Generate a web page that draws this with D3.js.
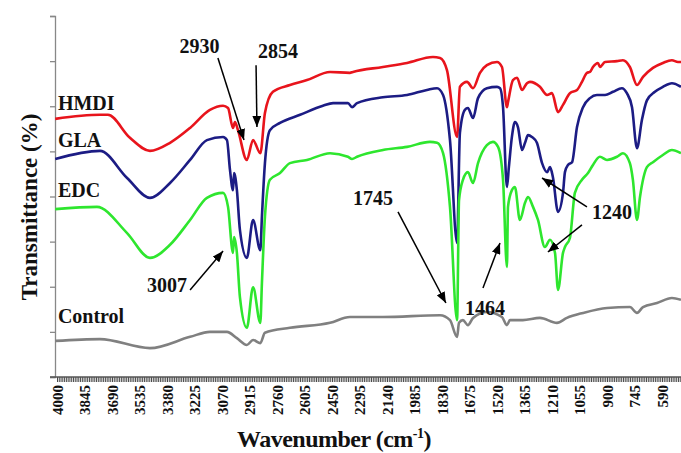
<!DOCTYPE html>
<html>
<head>
<meta charset="utf-8">
<script src="https://cdn.jsdelivr.net/npm/d3@7"></script>
<style>
  html, body { margin: 0; padding: 0; background: #fff; }
  svg { display: block; }
  text { font-family: "Liberation Serif", "Times New Roman", serif; font-weight: bold; fill: #111; }
</style>
</head>
<body>
<svg id="chart" width="681" height="453"></svg>
<script>
// ---- data: [wavenumber (cm-1), transmittance (%)] ----
const hmdi = [[4010,57.2],[3758,58.1],[3713,58.1],[3589,53.0],[3476,50.1],[3363,51.9],[3250,55.2],[3138,59.2],[3064,60.1],[3036,59.6],[3008,55.2],[2997,56.5],[2980,54.7],[2930,48.1],[2895,52.5],[2854,49.6],[2828,58.5],[2783,63.2],[2687,64.7],[2591,65.8],[2461,67.6],[2349,67.4],[2332,67.6],[2163,68.7],[2027,69.6],[1881,70.9],[1841,70.7],[1802,68.0],[1745,53.2],[1729,64.3],[1689,65.4],[1655,64.0],[1616,67.4],[1577,69.1],[1520,69.8],[1492,68.7],[1464,59.8],[1458,60.9],[1430,65.8],[1407,66.3],[1379,63.6],[1351,65.1],[1334,65.4],[1278,64.3],[1238,62.5],[1210,62.9],[1176,58.7],[1148,60.3],[1109,62.9],[1069,63.6],[1041,65.4],[1013,67.4],[996,67.6],[979,68.7],[951,69.6],[940,68.7],[911,69.8],[844,70.0],[810,70.2],[771,68.7],[731,64.7],[697,66.5],[641,68.5],[585,69.6],[534,70.2],[500,69.8],[483,69.8]];

const gla = [[4010,48.3],[3758,50.1],[3605,44.1],[3476,39.7],[3363,43.0],[3250,48.1],[3155,52.5],[3064,53.2],[3042,52.5],[3025,45.9],[3008,41.4],[3002,45.2],[2986,41.4],[2969,32.6],[2930,26.4],[2895,34.8],[2854,28.1],[2845,35.5],[2828,47.4],[2800,54.7],[2743,56.3],[2630,58.1],[2501,60.1],[2444,60.7],[2360,60.7],[2337,59.8],[2309,60.7],[2163,62.0],[2027,62.5],[1915,63.6],[1858,64.0],[1824,62.5],[1785,52.5],[1745,29.7],[1729,54.1],[1701,59.2],[1684,59.6],[1655,57.4],[1627,61.8],[1577,64.0],[1520,64.3],[1503,64.0],[1486,59.8],[1464,42.1],[1453,46.5],[1436,53.2],[1419,56.5],[1402,55.4],[1379,50.3],[1362,51.9],[1345,53.6],[1323,53.2],[1295,51.9],[1266,47.4],[1238,45.4],[1221,46.5],[1205,44.3],[1176,36.6],[1148,40.8],[1137,45.4],[1120,47.0],[1097,47.6],[1069,55.4],[1035,59.8],[996,61.8],[957,62.5],[911,62.5],[866,63.2],[816,64.0],[788,62.9],[759,59.8],[731,50.7],[703,57.0],[675,61.3],[630,63.2],[585,64.3],[534,65.1],[483,64.3]];

const edc = [[4010,37.2],[3775,37.7],[3605,31.9],[3476,26.4],[3363,29.3],[3250,34.8],[3155,39.7],[3064,40.8],[3036,37.7],[3008,27.5],[3002,31.0],[2986,27.5],[2969,17.7],[2930,10.9],[2895,19.9],[2854,12.0],[2845,20.8],[2828,35.5],[2800,43.7],[2743,45.2],[2687,47.4],[2591,48.1],[2461,49.6],[2360,48.8],[2337,48.3],[2309,48.8],[2163,50.3],[2027,51.0],[1898,52.1],[1858,51.9],[1824,49.6],[1785,37.7],[1745,12.6],[1734,39.2],[1712,43.7],[1684,45.4],[1655,43.0],[1627,47.4],[1577,51.4],[1543,52.1],[1514,51.0],[1486,43.7],[1464,24.4],[1458,37.7],[1436,41.4],[1419,42.1],[1391,34.8],[1362,38.6],[1345,39.9],[1317,37.7],[1289,34.8],[1250,28.8],[1221,30.4],[1193,27.5],[1176,19.3],[1148,27.5],[1137,28.8],[1109,30.8],[1081,40.8],[1041,43.7],[1007,45.2],[979,47.0],[940,48.8],[900,48.1],[844,48.8],[810,49.6],[771,47.4],[754,43.7],[731,34.8],[714,39.9],[675,46.5],[641,47.6],[585,49.2],[534,50.3],[483,49.6]];

const control = [[4010,8.0],[3758,8.4],[3476,6.4],[3250,8.9],[3138,10.0],[3042,10.0],[2986,8.6],[2930,7.1],[2895,8.2],[2854,7.5],[2828,9.8],[2687,10.9],[2461,12.0],[2349,13.3],[2163,13.3],[1841,13.7],[1785,12.6],[1745,8.9],[1734,12.0],[1712,12.6],[1684,11.5],[1655,13.1],[1577,14.4],[1492,13.3],[1464,11.5],[1447,12.6],[1374,12.6],[1278,13.1],[1182,12.0],[1126,13.1],[1035,14.2],[900,15.3],[771,15.5],[731,14.2],[697,15.5],[618,16.4],[534,17.5],[483,17.1]];

const seriesNames = ["HMDI", "GLA", "EDC", "Control"];
const seriesColors = ["#e8141c", "#1c1c84", "#2ee62e", "#808080"];
// label anchor positions (wavenumber, transmittance)
const seriesLabelPos = [[3995,59.2],[3995,51.0],[3995,39.9],[3995,12.0]];

const xTickValues = [4000,3845,3690,3535,3380,3225,3070,2915,2760,2605,2450,2295,2140,1985,1830,1675,1520,1365,1210,1055,900,745,590];
const yTickValues = [0,10,20,30,40,50,60,70,80];

// annotations: label, text position, arrows [[from],[to]]
const annLabels = ["2930","2854","3007","1745","1464","1240"];
const annText = [[3197,71.8],[2754,70.7],[3380,18.8],[2219,38.1],[1588,13.7],[872,35.0]];
const annArrows = [
  [[[3093,70.7],[2946,52.5]]],
  [[[2878,69.1],[2873,55.4]]],
  [[[3250,19.3],[3064,27.9]]],
  [[[2078,36.6],[1808,16.4]]],
  [[[1599,19.7],[1503,29.7]]],
  [[[1013,37.7],[1266,44.1]],[[1041,33.7],[1233,27.7]]]
];

// ---- drawing ----
const svg = d3.select("#chart");
const x = d3.scaleLinear().domain([4000, 400]).range([57, 695.7]);
const y = d3.scaleLinear().domain([0, 80]).range([377, 16]);

// arrow marker
svg.append("defs").append("marker")
  .attr("id", "ah").attr("viewBox", "0 0 10 8")
  .attr("refX", 10).attr("refY", 4)
  .attr("markerWidth", 11).attr("markerHeight", 9)
  .attr("markerUnits", "userSpaceOnUse")
  .attr("orient", "auto")
  .append("path").attr("d", "M0,0 L10,4 L0,8 Z").attr("fill", "#000");

// y axis
const yAxis = d3.axisLeft(y).tickValues(yTickValues).tickSize(5).tickFormat("");
svg.append("g").attr("transform", "translate(55,0)").call(yAxis)
  .call(g => g.select(".domain").attr("stroke", "#888").attr("stroke-width", 1.3))
  .call(g => g.selectAll(".tick line").attr("stroke", "#888").attr("stroke-width", 1.3));

// x axis: dense minor ticks
const minorTicks = d3.range(4000, 399, -10);
const xAxisMinor = d3.axisBottom(x).tickValues(minorTicks).tickSize(5).tickFormat("").tickSizeOuter(0);
svg.append("g").attr("transform", "translate(0,377)").call(xAxisMinor)
  .call(g => g.select(".domain").remove())
  .call(g => g.selectAll(".tick line").attr("stroke", "#333").attr("stroke-width", 0.9));
svg.append("line").attr("x1", 50).attr("x2", 681).attr("y1", 377).attr("y2", 377)
  .attr("stroke", "#555").attr("stroke-width", 1.3);

// x tick labels
const xAxisLab = d3.axisBottom(x).tickValues(xTickValues).tickSize(0).tickFormat(d3.format("d"));
svg.append("g").attr("transform", "translate(0,377)").call(xAxisLab)
  .attr("font-size", null).attr("font-family", null)
  .call(g => g.select(".domain").remove())
  .call(g => g.selectAll(".tick text")
    .attr("transform", "rotate(-90)")
    .attr("x", -8).attr("y", 0).attr("dy", "0.36em")
    .attr("text-anchor", "end")
    .style("font-family", "'Liberation Serif', serif")
    .style("font-weight", "bold")
    .style("font-size", "15px")
    .attr("fill", "#111"));

// lines
const line = d3.line().x(d => x(d[0])).y(d => y(d[1])).curve(d3.curveMonotoneX);
const allSeries = [hmdi, gla, edc, control];
allSeries.forEach((s, i) => {
  svg.append("path").datum(s).attr("d", line)
    .attr("fill", "none").attr("stroke", seriesColors[i])
    .attr("stroke-width", 2.6).attr("stroke-linejoin", "round");
});

// series labels
seriesNames.forEach((n, i) => {
  svg.append("text").attr("x", x(seriesLabelPos[i][0])).attr("y", y(seriesLabelPos[i][1]))
    .style("font-size", "20px").text(n);
});

// annotations
annLabels.forEach((t, i) => {
  svg.append("text").attr("x", x(annText[i][0])).attr("y", y(annText[i][1]))
    .attr("text-anchor", "middle").style("font-size", "20px").text(t);
  annArrows[i].forEach(a => {
    svg.append("line")
      .attr("x1", x(a[0][0])).attr("y1", y(a[0][1]))
      .attr("x2", x(a[1][0])).attr("y2", y(a[1][1]))
      .attr("stroke", "#000").attr("stroke-width", 1.5)
      .attr("marker-end", "url(#ah)");
  });
});

// axis titles
svg.append("text").attr("transform", "translate(37,207) rotate(-90)")
  .attr("text-anchor", "middle").style("font-size", "23px").text("Transmittance (%)");
const xt = svg.append("text").attr("x", 334).attr("y", 447)
  .attr("text-anchor", "middle").style("font-size", "24px").style("letter-spacing", "-0.5px");
xt.append("tspan").text("Wavenumber (cm");
xt.append("tspan").attr("dy", "-9").style("font-size", "14px").text("-1");
xt.append("tspan").attr("dy", "9").text(")");
</script>
</body>
</html>
